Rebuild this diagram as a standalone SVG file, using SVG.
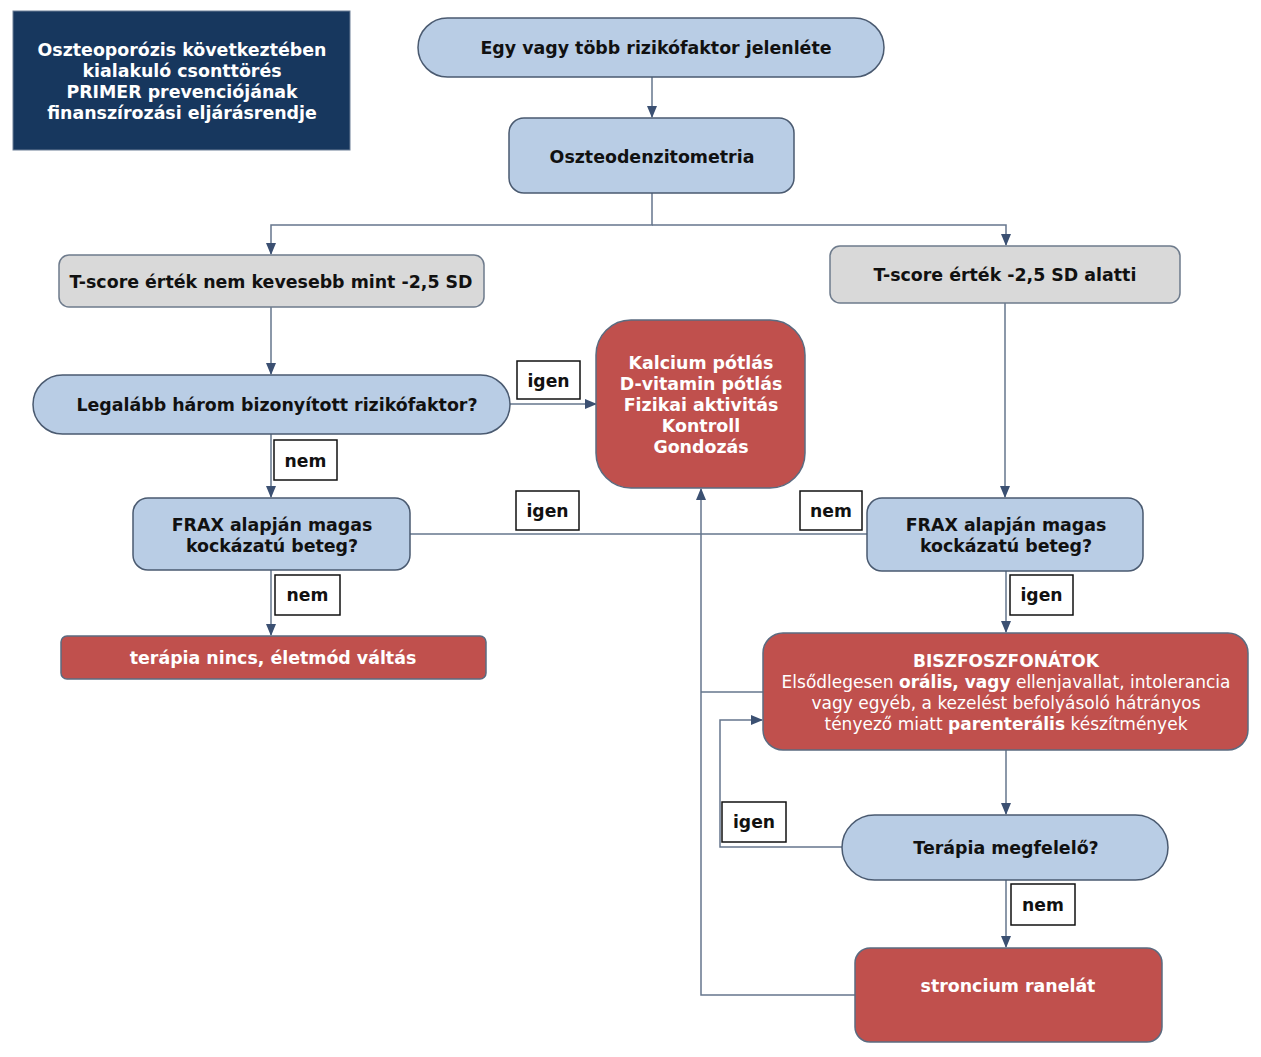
<svg xmlns="http://www.w3.org/2000/svg" width="1261" height="1057" viewBox="0 0 1261 1057">
<defs>
<marker id="arr" markerWidth="12" markerHeight="12" refX="11" refY="6" orient="auto" markerUnits="userSpaceOnUse">
<path d="M0,1 L12,6 L0,11 Z" fill="#3b5072"/>
</marker>
<style>
text{font-family:"DejaVu Sans","Verdana",sans-serif;font-weight:bold;text-anchor:middle;dominant-baseline:central}
.blue{fill:#b9cde5;stroke:#4a5a70;stroke-width:1.5}
.gray{fill:#d9d9d9;stroke:#6e7b8c;stroke-width:1.5}
.red{fill:#c0504d;stroke:#5b6b80;stroke-width:1.5}
.t{font-size:17.4px;fill:#111}
.w{font-size:17.4px;fill:#fff}
.b{font-size:17px;fill:#fff}
.lbl rect{fill:#fff;stroke:#111;stroke-width:1.5}
.lbl text{font-size:17.2px;fill:#111}
.c{fill:none;stroke:#65768d;stroke-width:1.5}
.n{font-weight:normal}
</style>
</defs>
<rect width="1261" height="1057" fill="#fff"/>

<g id="title">
<rect x="13" y="11" width="337" height="139" fill="#17375e" stroke="#6d7f96" stroke-width="1"/>
<text x="182" y="50" class="w">Oszteoporózis következtében</text>
<text x="182" y="71" class="w">kialakuló csonttörés</text>
<text x="182" y="92" class="w">PRIMER prevenciójának</text>
<text x="182" y="113" class="w">finanszírozási eljárásrendje</text>
</g>

<g id="connectors">
<path class="c" d="M652,77 V117" marker-end="url(#arr)"/>
<path class="c" d="M652,193 V225 H271 V254" marker-end="url(#arr)"/>
<path class="c" d="M652,225 H1006 V245" marker-end="url(#arr)"/>
<path class="c" d="M271,307 V374" marker-end="url(#arr)"/>
<path class="c" d="M510,404 H596" marker-end="url(#arr)"/>
<path class="c" d="M271,434 V497" marker-end="url(#arr)"/>
<path class="c" d="M410,534 H867"/>
<path class="c" d="M271,570 V635" marker-end="url(#arr)"/>
<path class="c" d="M1005,303 V497" marker-end="url(#arr)"/>
<path class="c" d="M1006,571 V632" marker-end="url(#arr)"/>
<path class="c" d="M855,995 H701 V489" marker-end="url(#arr)"/>
<path class="c" d="M763,692 H701"/>
<path class="c" d="M1006,750 V814" marker-end="url(#arr)"/>
<path class="c" d="M842,847 H720 V720 H762" marker-end="url(#arr)"/>
<path class="c" d="M1006,880 V947" marker-end="url(#arr)"/>
</g>

<g id="n1">
<rect x="418" y="18" width="466" height="59" rx="29.5" class="blue"/>
<text x="656" y="48" class="t">Egy vagy több rizikófaktor jelenléte</text>
</g>
<g id="n2">
<rect x="509" y="118" width="285" height="75" rx="15" class="blue"/>
<text x="652" y="157" class="t">Oszteodenzitometria</text>
</g>
<g id="n3">
<rect x="59" y="255" width="425" height="52" rx="10" class="gray"/>
<text x="271" y="282" class="t">T-score érték nem kevesebb mint -2,5 SD</text>
</g>
<g id="n4">
<rect x="830" y="246" width="350" height="57" rx="10" class="gray"/>
<text x="1005" y="275" class="t">T-score érték -2,5 SD alatti</text>
</g>
<g id="n5">
<rect x="33" y="375" width="477" height="59" rx="29.5" class="blue"/>
<text x="277" y="405" class="t">Legalább három bizonyított rizikófaktor?</text>
</g>
<g id="n6">
<rect x="596" y="320" width="209" height="168" rx="35" class="red"/>
<text x="701" y="363" class="w">Kalcium pótlás</text>
<text x="701" y="384" class="w">D-vitamin pótlás</text>
<text x="701" y="405" class="w">Fizikai aktivitás</text>
<text x="701" y="426" class="w">Kontroll</text>
<text x="701" y="447" class="w">Gondozás</text>
</g>
<g id="n7">
<rect x="133" y="498" width="277" height="72" rx="15" class="blue"/>
<text x="272" y="525" class="t">FRAX alapján magas</text>
<text x="272" y="546" class="t">kockázatú beteg?</text>
</g>
<g id="n8">
<rect x="867" y="498" width="276" height="73" rx="15" class="blue"/>
<text x="1006" y="525" class="t">FRAX alapján magas</text>
<text x="1006" y="546" class="t">kockázatú beteg?</text>
</g>
<g id="n9">
<rect x="61" y="636" width="425" height="43" rx="6" class="red"/>
<text x="273" y="658" class="w">terápia nincs, életmód váltás</text>
</g>
<g id="n10">
<rect x="763" y="633" width="485" height="117" rx="20" class="red"/>
<text x="1006" y="661" class="b">BISZFOSZFONÁTOK</text>
<text x="1006" y="682" class="b"><tspan class="n">Elsődlegesen </tspan>orális, vagy<tspan class="n"> ellenjavallat, intolerancia</tspan></text>
<text x="1006" y="703" class="b n">vagy egyéb, a kezelést befolyásoló hátrányos</text>
<text x="1006" y="724" class="b"><tspan class="n">tényező miatt </tspan>parenterális<tspan class="n"> készítmények</tspan></text>
</g>
<g id="n11">
<rect x="842" y="815" width="326" height="65" rx="32.5" class="blue"/>
<text x="1006" y="848" class="t">Terápia megfelelő?</text>
</g>
<g id="n12">
<rect x="855" y="948" width="307" height="94" rx="15" class="red"/>
<text x="1008" y="986" class="w">stroncium ranelát</text>
</g>

<g id="labels">
<g class="lbl"><rect x="517" y="361" width="63" height="38"/><text x="548.5" y="381">igen</text></g>
<g class="lbl"><rect x="274" y="440" width="63" height="40"/><text x="305.5" y="461">nem</text></g>
<g class="lbl"><rect x="516" y="491" width="63" height="39"/><text x="547.5" y="511">igen</text></g>
<g class="lbl"><rect x="800" y="491" width="62" height="39"/><text x="831" y="511">nem</text></g>
<g class="lbl"><rect x="275" y="575" width="65" height="40"/><text x="307.5" y="595">nem</text></g>
<g class="lbl"><rect x="1010" y="575" width="63" height="40"/><text x="1041.5" y="595">igen</text></g>
<g class="lbl"><rect x="722" y="802" width="64" height="40"/><text x="754" y="822">igen</text></g>
<g class="lbl"><rect x="1011" y="884" width="64" height="41"/><text x="1043" y="905">nem</text></g>
</g>
</svg>
